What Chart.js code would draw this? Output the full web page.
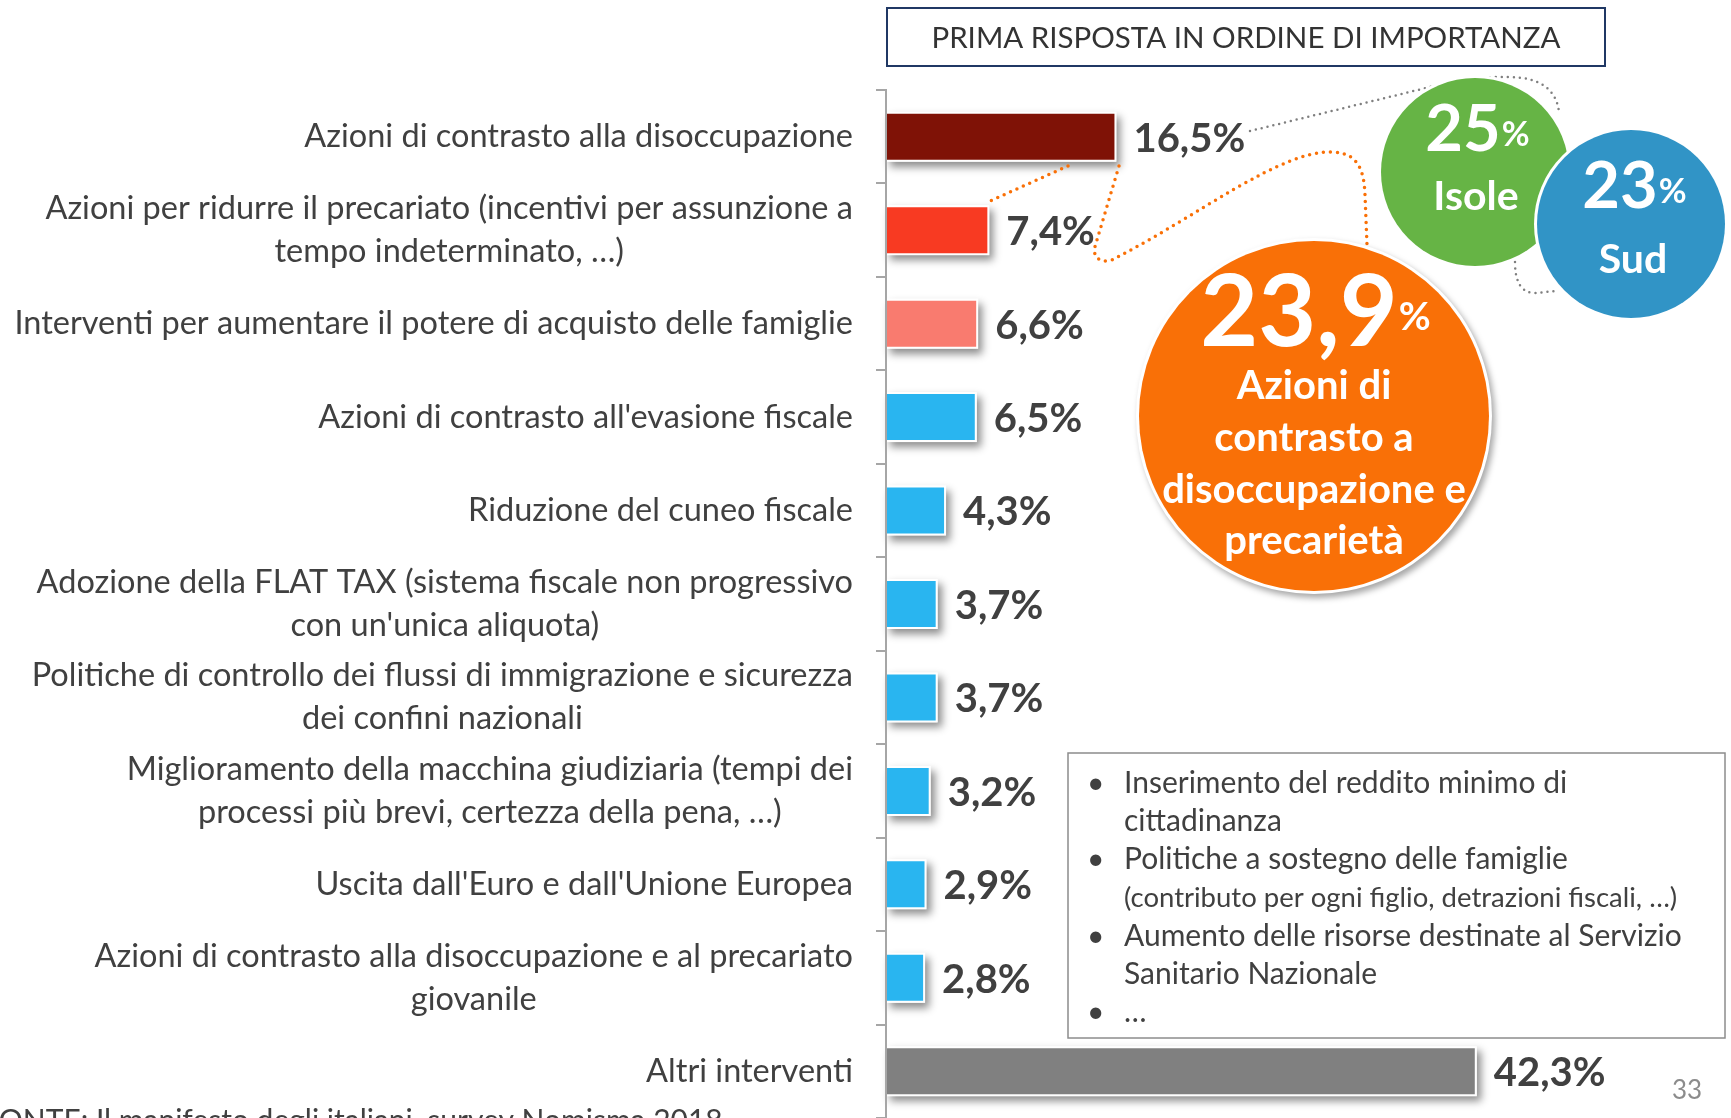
<!DOCTYPE html>
<html lang="it">
<head>
<meta charset="utf-8">
<title>Prima risposta in ordine di importanza</title>
<script src="https://cdn.jsdelivr.net/npm/chart.js@4.4.0/dist/chart.umd.min.js"></script>
<style>
  html, body { margin: 0; padding: 0; background: #fff; }
  #wrap { position: relative; width: 1731px; height: 1118px; overflow: hidden; }
</style>
</head>
<body>
<div id="wrap"><canvas id="chart"></canvas></div>
<script>
// categories (multi-line ones are arrays)
const categories = [
    'Azioni di contrasto alla disoccupazione',
    ['Azioni per ridurre il precariato (incentivi per assunzione a', 'tempo indeterminato, …)'],
    'Interventi per aumentare il potere di acquisto delle famiglie',
    "Azioni di contrasto all'evasione fiscale",
    'Riduzione del cuneo fiscale',
    ['Adozione della FLAT TAX (sistema fiscale non progressivo', "con un'unica aliquota)"],
    ['Politiche di controllo dei flussi di immigrazione e sicurezza', 'dei confini nazionali'],
    ['Miglioramento della macchina giudiziaria (tempi dei', 'processi più brevi, certezza della pena, …)'],
    "Uscita dall'Euro e dall'Unione Europea",
    ['Azioni di contrasto alla disoccupazione e al precariato', 'giovanile'],
    'Altri interventi'
];
const shares = [16.5, 7.4, 6.6, 6.5, 4.3, 3.7, 3.7, 3.2, 2.9, 2.8, 42.3];

const title = 'PRIMA RISPOSTA IN ORDINE DI IMPORTANZA';
const highlightValue = '23,9';
const highlightText = ['Azioni di', 'contrasto a', 'disoccupazione e', 'precarietà'];
const islandsValue = '25';
const islandsLabel = 'Isole';
const southValue = '23';
const southLabel = 'Sud';
const otherItems = [
    ['Inserimento del reddito minimo di', 'cittadinanza'],
    ['Politiche a sostegno delle famiglie', '(contributo per ogni figlio, detrazioni fiscali, …)'],
    ['Aumento delle risorse destinate al Servizio', 'Sanitario Nazionale'],
    ['…']
];
const sourceNote = 'FONTE: Il manifesto degli italiani, survey Nomisma 2018';
const pageNumber = '33';

const FONT = 'Lato, "Open Sans", sans-serif';
const TEXT = '#404040';
const barColors = ['#7f1206', '#f83a22', '#f97b6f', '#29b5f0', '#29b5f0', '#29b5f0',
    '#29b5f0', '#29b5f0', '#29b5f0', '#29b5f0', '#808080'];

const fmt = v => v.toFixed(1).replace('.', ',') + '%';

const barShadow = {
    id: 'barShadow',
    beforeDatasetsDraw(chart) {
        const ctx = chart.ctx;
        ctx.save();
        ctx.shadowColor = 'rgba(0,0,0,0.45)';
        ctx.shadowBlur = 8;
        ctx.shadowOffsetX = 4;
        ctx.shadowOffsetY = 5;
        ctx.fillStyle = '#ffffff';
        chart.getDatasetMeta(0).data.forEach(bar => {
            const { x, y, base, height } = bar.getProps(['x', 'y', 'base', 'height'], true);
            ctx.fillRect(Math.min(x, base), y - height / 2, Math.abs(x - base), height);
        });
        ctx.restore();
    }
};

const valueLabels = {
    id: 'valueLabels',
    afterDatasetsDraw(chart) {
        const ctx = chart.ctx;
        ctx.save();
        ctx.font = `bold 40px ${FONT}`;
        ctx.fillStyle = TEXT;
        ctx.textAlign = 'left';
        ctx.textBaseline = 'middle';
        chart.getDatasetMeta(0).data.forEach((bar, i) => {
            ctx.fillText(fmt(shares[i]), bar.x + 17, bar.y + 2);
        });
        ctx.restore();
    }
};

// category labels: block right aligned, lines centred inside the block
const categoryLabels = {
    id: 'categoryLabels',
    afterDraw(chart) {
        const ctx = chart.ctx, scale = chart.scales.y;
        const lineH = 43;
        const right = scale.right - 33;
        ctx.save();
        ctx.font = `32.5px ${FONT}`;
        ctx.fillStyle = TEXT;
        ctx.textBaseline = 'middle';
        ctx.textAlign = 'center';
        categories.forEach((label, i) => {
            const lines = Array.isArray(label) ? label : [label];
            const y0 = scale.getPixelForTick(i) - (lines.length - 1) * lineH / 2;
            const w = Math.max(...lines.map(l => ctx.measureText(l).width));
            lines.forEach((l, k) => ctx.fillText(l, right - w / 2, y0 + k * lineH));
        });
        ctx.restore();
    }
};

function dotted(ctx, color, width, gap, draw) {
    ctx.save();
    ctx.strokeStyle = color;
    ctx.lineWidth = width;
    ctx.lineCap = 'round';
    ctx.setLineDash([0, gap]);
    ctx.beginPath();
    draw();
    ctx.stroke();
    ctx.restore();
}

function circle(ctx, x, y, r, fill, shadow) {
    ctx.save();
    if (shadow) {
        ctx.shadowColor = 'rgba(0,0,0,0.35)';
        ctx.shadowBlur = 6;
        ctx.shadowOffsetX = 3;
        ctx.shadowOffsetY = 4;
    }
    ctx.beginPath();
    ctx.arc(x, y, r, 0, Math.PI * 2);
    ctx.fillStyle = '#ffffff';
    ctx.fill();
    ctx.restore();
    ctx.beginPath();
    ctx.arc(x, y, r - 3, 0, Math.PI * 2);
    ctx.fillStyle = fill;
    ctx.fill();
}

function bigPercent(ctx, cx, num, numSize, base, pctSize, pctBase) {
    ctx.font = `bold ${numSize}px ${FONT}`;
    const wn = ctx.measureText(num).width;
    ctx.font = `bold ${pctSize}px ${FONT}`;
    const wp = ctx.measureText('%').width;
    const x0 = cx - (wn + wp) / 2;
    ctx.textAlign = 'left';
    ctx.textBaseline = 'alphabetic';
    ctx.font = `bold ${numSize}px ${FONT}`;
    ctx.fillText(num, x0, base);
    ctx.font = `bold ${pctSize}px ${FONT}`;
    ctx.fillText('%', x0 + wn + 1, pctBase);
}

const annotations = {
    id: 'annotations',
    afterDraw(chart) {
        const ctx = chart.ctx;
        ctx.save();

        // title box
        ctx.strokeStyle = '#203864';
        ctx.lineWidth = 2;
        ctx.strokeRect(887, 8, 718, 58);
        ctx.fillStyle = '#333333';
        ctx.font = `29.5px ${FONT}`;
        ctx.textAlign = 'center';
        ctx.textBaseline = 'middle';
        ctx.fillText(title, 1246, 38);

        // connectors
        dotted(ctx, '#f97007', 3.5, 7, () => {
            ctx.moveTo(1068, 166);
            ctx.lineTo(990, 201);
        });
        dotted(ctx, '#f97007', 3.5, 7, () => {
            ctx.moveTo(1119, 166);
            ctx.lineTo(1094, 250);
            ctx.quadraticCurveTo(1096, 264, 1112, 260);
            ctx.bezierCurveTo(1200, 215, 1280, 150, 1333, 152);
            ctx.bezierCurveTo(1358, 153, 1364, 170, 1365, 195);
            ctx.lineTo(1367, 245);
        });
        dotted(ctx, '#7f7f7f', 2.5, 6, () => {
            ctx.moveTo(1250, 131);
            ctx.lineTo(1430, 87);
            ctx.quadraticCurveTo(1470, 76, 1510, 77);
            ctx.quadraticCurveTo(1555, 78, 1559, 112);
        });
        dotted(ctx, '#7f7f7f', 2.5, 6, () => {
            ctx.moveTo(1515, 262);
            ctx.quadraticCurveTo(1515, 293, 1535, 293);
            ctx.lineTo(1556, 291);
        });

        // circles
        circle(ctx, 1314, 416, 178, '#f97007', true);
        circle(ctx, 1475, 172, 97, '#66b445', false);
        circle(ctx, 1631, 224, 97, '#3194c6', false);

        ctx.fillStyle = '#ffffff';
        bigPercent(ctx, 1315, highlightValue, 100, 346, 39, 330);
        ctx.font = `bold 40px ${FONT}`;
        ctx.textAlign = 'center';
        ctx.textBaseline = 'alphabetic';
        [399, 451, 503, 554].forEach((y, i) => ctx.fillText(highlightText[i], 1314, y));

        bigPercent(ctx, 1477, islandsValue, 65, 151, 34, 146);
        ctx.font = `bold 41px ${FONT}`;
        ctx.textAlign = 'center';
        ctx.fillText(islandsLabel, 1476, 210);

        bigPercent(ctx, 1634, southValue, 65, 208, 34, 203);
        ctx.font = `bold 41px ${FONT}`;
        ctx.textAlign = 'center';
        ctx.fillText(southLabel, 1633, 273);

        // box with other answers
        ctx.fillStyle = '#ffffff';
        ctx.fillRect(1068, 753, 657, 285);
        ctx.strokeStyle = '#8c8c8c';
        ctx.lineWidth = 1.5;
        ctx.strokeRect(1068, 753, 657, 285);
        ctx.fillStyle = TEXT;
        ctx.textAlign = 'left';
        ctx.textBaseline = 'middle';
        let y = 783;
        otherItems.forEach(item => {
            ctx.font = `30px ${FONT}`;
            ctx.fillText('•', 1087, y);
            item.forEach(line => {
                ctx.font = line.startsWith('(') ? `27.5px ${FONT}` : `30px ${FONT}`;
                ctx.fillText(line, 1124, y);
                y += 38.3;
            });
        });

        // page number and source
        ctx.fillStyle = '#8c8c8c';
        ctx.font = `26px ${FONT}`;
        ctx.textAlign = 'center';
        ctx.fillText(pageNumber, 1687, 1091);
        ctx.fillStyle = TEXT;
        ctx.font = `30px ${FONT}`;
        ctx.textAlign = 'left';
        ctx.textBaseline = 'alphabetic';
        ctx.fillText(sourceNote, -18, 1131);

        ctx.restore();
    }
};

function build() {
    new Chart(document.getElementById('chart'), {
        type: 'bar',
        data: {
            labels: categories,
            datasets: [{
                data: shares,
                backgroundColor: barColors,
                borderColor: '#ffffff',
                borderWidth: 2,
                barPercentage: 0.535,
                categoryPercentage: 1
            }]
        },
        options: {
            indexAxis: 'y',
            responsive: true,
            maintainAspectRatio: false,
            animation: false,
            layout: { padding: { top: 90, right: 7, bottom: 0, left: 0 } },
            plugins: {
                legend: { display: false },
                tooltip: { enabled: false }
            },
            scales: {
                x: { display: false, min: 0, max: 60 },
                y: {
                    afterFit: scale => { scale.width = 886; },
                    ticks: { display: false },
                    grid: {
                        drawOnChartArea: false,
                        drawTicks: true,
                        tickLength: 10,
                        color: '#a6a6a6',
                        lineWidth: 2
                    },
                    border: { display: true, color: '#a6a6a6', width: 2, z: 1 }
                }
            }
        },
        plugins: [barShadow, valueLabels, categoryLabels, annotations]
    });
}

Promise.all([
    document.fonts.load(`28px Lato`),
    document.fonts.load(`bold 28px Lato`)
]).then(build, build);
</script>
</body>
</html>
